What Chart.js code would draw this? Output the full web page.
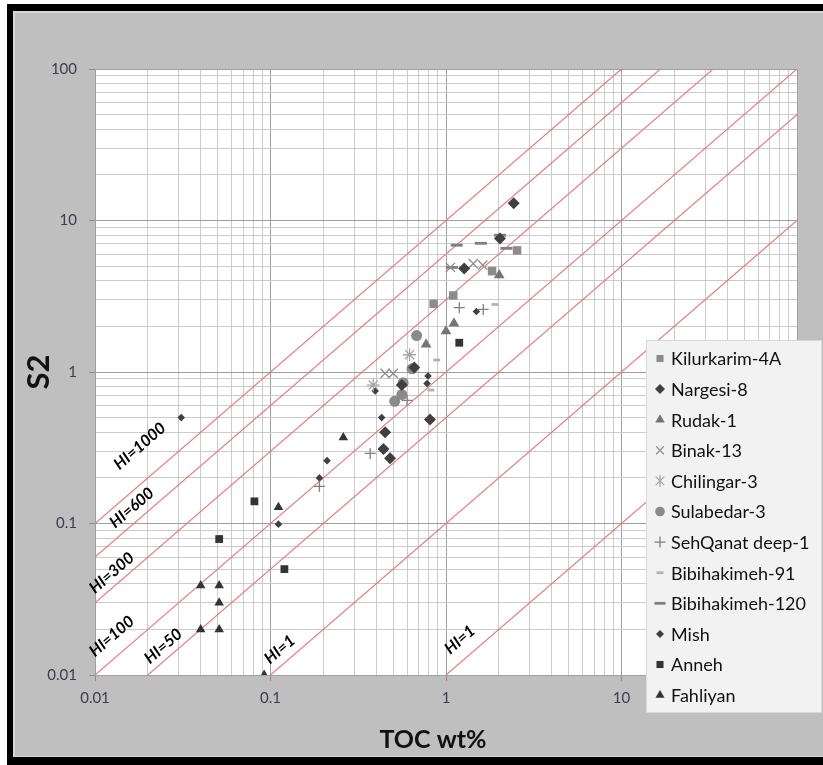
<!DOCTYPE html>
<html>
<head>
<meta charset="utf-8">
<script src="https://cdn.jsdelivr.net/npm/chart.js@4.4.1/dist/chart.umd.min.js"></script>
<style>
html,body{margin:0;padding:0;background:#fff;}
canvas{display:block;}
</style>
</head>
<body>
<canvas id="c" width="823" height="765"></canvas>
<script>
// ---------------- DATA ----------------
const seriesNames = ['Kilurkarim-4A','Nargesi-8','Rudak-1','Binak-13','Chilingar-3','Sulabedar-3',
  'SehQanat deep-1','Bibihakimeh-91','Bibihakimeh-120','Mish','Anneh','Fahliyan'];

const kilurkarimToc = [2.54, 1.83, 1.10, 0.85];
const kilurkarimS2  = [6.35, 4.63, 3.20, 2.82];

const nargesiToc = [2.43, 2.03, 1.27, 0.66, 0.56, 0.81, 0.45, 0.44, 0.48];
const nargesiS2  = [13.0, 7.6, 4.82, 1.07, 0.82, 0.485, 0.40, 0.31, 0.27];

const rudakToc = [2.01, 1.11, 1.00, 0.77];
const rudakS2  = [4.36, 2.09, 1.86, 1.52];

const binakToc = [1.06, 1.43, 1.62, 0.45, 0.50];
const binakS2  = [4.90, 5.20, 5.08, 0.98, 0.98];

const chilingarToc = [0.62, 0.385];
const chilingarS2  = [1.30, 0.82];

const sulabedarToc = [0.68, 0.64, 0.57, 0.56, 0.51];
const sulabedarS2  = [1.74, 1.05, 0.85, 0.71, 0.64];

const sehqanatToc = [1.19, 1.63, 0.60, 0.37, 0.19];
const sehqanatS2  = [2.66, 2.59, 0.65, 0.29, 0.176];

const bibi91Toc = [1.90, 0.885, 0.82];
const bibi91S2  = [2.79, 1.20, 0.76];

const bibi120Toc = [2.03, 1.15, 1.58, 2.21, 1.08];
const bibi120S2  = [8.0, 6.87, 7.07, 6.55, 4.90];

const mishToc = [1.49, 0.79, 0.78, 0.395, 0.43, 0.21, 0.19, 0.031, 0.111];
const mishS2  = [2.51, 0.94, 0.84, 0.75, 0.50, 0.26, 0.20, 0.50, 0.099];

const annehToc = [1.19, 0.081, 0.051, 0.12];
const annehS2  = [1.56, 0.14, 0.079, 0.05];

const fahliyanToc = [0.26, 0.111, 0.040, 0.051, 0.051, 0.040, 0.051, 0.092];
const fahliyanS2  = [0.37, 0.128, 0.039, 0.039, 0.030, 0.020, 0.020, 0.010];

// Hydrogen index reference lines (S2 = HI/100 * TOC)
const hiValues = [1000, 600, 300, 100, 50, 10, 1];
const hiLabels = ['HI=1000','HI=600','HI=300','HI=100','HI=50','HI=1','HI=1'];
const hiLabelToc = [0.018, 0.0162, 0.01245, 0.01245, 0.0245, 0.113, 1.2];
const hiLabelS2  = [0.324, 0.127, 0.0472, 0.0180, 0.0155, 0.0147, 0.0171];

// axes
const axisMin = 0.01, axisMax = 100;
const decades = [0.01, 0.1, 1, 10];
const minorSteps = [1,2,3,4,5,6,7,8,9];
const xTickLabels = ['0.01','0.1','1','10','100'];
const yTickLabels = ['0.01','0.1','1','10','100'];
const majorTicks = [0.01, 0.1, 1, 10, 100];
const xTitle = 'TOC wt%';
const yTitle = 'S2';

// ---------------- BUILD ----------------
const zip = (xs, ys) => xs.map((x, i) => ({x: x, y: ys[i]}));
const seriesData = [
  zip(kilurkarimToc, kilurkarimS2), zip(nargesiToc, nargesiS2), zip(rudakToc, rudakS2),
  zip(binakToc, binakS2), zip(chilingarToc, chilingarS2), zip(sulabedarToc, sulabedarS2),
  zip(sehqanatToc, sehqanatS2), zip(bibi91Toc, bibi91S2), zip(bibi120Toc, bibi120S2),
  zip(mishToc, mishS2), zip(annehToc, annehS2), zip(fahliyanToc, fahliyanS2)
];
const styles = [
  {ps:'rect',     r:6,   c:'#8c8c8c', lw:0, lr:5},
  {ps:'rectRot',  r:6,   c:'#404040', lw:0, lr:5},
  {ps:'triangle', r:6.2, c:'#767676', lw:0, lr:5.5},
  {ps:'crossRot', r:6.5, c:'#8c8c8c', lw:1.3, lr:5.5},
  {ps:'star',     r:6.5, c:'#a6a6a6', lw:1.3, lr:6},
  {ps:'circle',   r:5.5, c:'#8a8a8a', lw:0, lr:4.8},
  {ps:'cross',    r:5.5, c:'#7f7f7f', lw:1.3, lr:5.5},
  {ps:'line',     r:3.5, c:'#b3b3b3', lw:2.8, lr:3.5},
  {ps:'line',     r:6,   c:'#7f7f7f', lw:2.8, lr:5.5},
  {ps:'rectRot',  r:3.8, c:'#404040', lw:0, lr:4},
  {ps:'rect',     r:5.5, c:'#333333', lw:0, lr:5},
  {ps:'triangle', r:5.5, c:'#333333', lw:0, lr:5.2}
];

const datasets = seriesNames.map((n, i) => ({
  type: 'scatter',
  label: n,
  data: seriesData[i],
  pointStyle: styles[i].ps,
  pointRadius: styles[i].r,
  pointHoverRadius: styles[i].r,
  backgroundColor: styles[i].c,
  borderColor: styles[i].c,
  borderWidth: styles[i].lw,
  order: 0
}));
hiValues.forEach((hi, i) => {
  datasets.push({
    type: 'scatter',
    label: hiLabels[i],
    data: [axisMin, axisMax].map(x => ({x: x, y: x * hi / 100})),
    showLine: true,
    pointRadius: 0,
    borderColor: '#e27d7d',
    borderWidth: 1.2,
    order: 10
  });
});

const allTicks = [];
decades.forEach(d => minorSteps.forEach(m => allTicks.push(+(d * m).toPrecision(6))));
allTicks.push(axisMax);
const isMajor = v => Math.abs(Math.log10(v) - Math.round(Math.log10(v))) < 1e-9;

function drawMarker(ctx, ps, x, y, r, color, lw) {
  ctx.save();
  ctx.fillStyle = color; ctx.strokeStyle = color; ctx.lineWidth = lw || 1.3;
  ctx.beginPath();
  if (ps === 'rect') { const s = r * Math.SQRT1_2; ctx.rect(x - s, y - s, 2*s, 2*s); ctx.fill(); }
  else if (ps === 'rectRot') { ctx.moveTo(x, y - r); ctx.lineTo(x + r, y); ctx.lineTo(x, y + r); ctx.lineTo(x - r, y); ctx.closePath(); ctx.fill(); }
  else if (ps === 'triangle') { const w = r * Math.sqrt(3) / 2; ctx.moveTo(x, y - r); ctx.lineTo(x + w, y + r/2); ctx.lineTo(x - w, y + r/2); ctx.closePath(); ctx.fill(); }
  else if (ps === 'circle') { ctx.arc(x, y, r, 0, Math.PI*2); ctx.fill(); }
  else if (ps === 'cross') { ctx.moveTo(x - r, y); ctx.lineTo(x + r, y); ctx.moveTo(x, y - r); ctx.lineTo(x, y + r); ctx.stroke(); }
  else if (ps === 'crossRot') { const s = r * Math.SQRT1_2; ctx.moveTo(x - s, y - s); ctx.lineTo(x + s, y + s); ctx.moveTo(x - s, y + s); ctx.lineTo(x + s, y - s); ctx.stroke(); }
  else if (ps === 'star') { const s = r * Math.SQRT1_2; ctx.moveTo(x - s, y - s); ctx.lineTo(x + s, y + s); ctx.moveTo(x - s, y + s); ctx.lineTo(x + s, y - s); ctx.moveTo(x, y - r); ctx.lineTo(x, y + r); ctx.stroke(); }
  else if (ps === 'line') { ctx.moveTo(x - r, y); ctx.lineTo(x + r, y); ctx.stroke(); }
  ctx.restore();
}

const framePlugin = {
  id: 'frame',
  beforeDraw(chart) {
    const ctx = chart.ctx, W = chart.width, H = chart.height;
    ctx.save();
    ctx.fillStyle = '#ffffff'; ctx.fillRect(0, 0, W, H);
    ctx.fillStyle = '#000000'; ctx.fillRect(7, 4, W - 7, H - 4);
    ctx.fillStyle = '#d6d6d6'; ctx.fillRect(13, 11, W - 13, H - 19);
    ctx.fillStyle = '#bfbfbf'; ctx.fillRect(15, 13, W - 15, H - 22);
    const a = chart.chartArea;
    ctx.fillStyle = '#ffffff'; ctx.fillRect(a.left, a.top, a.right - a.left, a.bottom - a.top);
    ctx.restore();
  }
};

const titlePlugin = {
  id: 'axisTitles',
  afterDraw(chart) {
    const ctx = chart.ctx;
    ctx.save();
    ctx.fillStyle = '#111';
    ctx.textAlign = 'center'; ctx.textBaseline = 'middle';
    ctx.font = 'bold 25px Lato';
    ctx.fillText(xTitle, 433, 740);
    ctx.translate(39, 372);
    ctx.rotate(-Math.PI / 2);
    ctx.font = 'bold 31px Lato';
    ctx.fillText(yTitle, 0, 0);
    ctx.restore();
  }
};

const hiLabelPlugin = {
  id: 'hiLabels',
  afterDatasetsDraw(chart) {
    const ctx = chart.ctx, xs = chart.scales.x, ys = chart.scales.y;
    const angle = Math.atan2(ys.getPixelForValue(10) - ys.getPixelForValue(1),
                             xs.getPixelForValue(10) - xs.getPixelForValue(1));
    ctx.save();
    ctx.font = 'italic bold 16px Lato';
    ctx.fillStyle = '#000';
    ctx.textAlign = 'center'; ctx.textBaseline = 'middle';
    hiLabels.forEach((t, i) => {
      ctx.save();
      ctx.translate(xs.getPixelForValue(hiLabelToc[i]), ys.getPixelForValue(hiLabelS2[i]));
      ctx.rotate(angle);
      ctx.fillText(t, 0, 0);
      ctx.restore();
    });
    ctx.restore();
  }
};

const legendPlugin = {
  id: 'customLegend',
  afterDraw(chart) {
    const ctx = chart.ctx;
    const bx = 646, by = 340, bw = 176, bh = 373;
    ctx.save();
    ctx.fillStyle = '#f2f2f2'; ctx.fillRect(bx, by, bw, bh);
    ctx.strokeStyle = '#d9d9d9'; ctx.lineWidth = 1; ctx.strokeRect(bx + 0.5, by + 0.5, bw - 1, bh - 1);
    ctx.font = '18px Lato'; ctx.fillStyle = '#111'; ctx.textBaseline = 'middle'; ctx.textAlign = 'left';
    seriesNames.forEach((n, i) => {
      const y = 358.5 + i * 30.6;
      drawMarker(ctx, styles[i].ps, 660, y, styles[i].lr, styles[i].c, styles[i].lw);
      ctx.fillStyle = '#111';
      ctx.fillText(n, 671, y + 1);
    });
    ctx.restore();
  }
};

Chart.defaults.font.family = 'Lato';

new Chart(document.getElementById('c'), {
  type: 'scatter',
  data: { datasets: datasets },
  plugins: [framePlugin, hiLabelPlugin, titlePlugin, legendPlugin],
  options: {
    responsive: false,
    devicePixelRatio: 1,
    animation: false,
    layout: { padding: { top: 69, right: 26, left: 0, bottom: 0 } },
    plugins: { legend: { display: false }, tooltip: { enabled: false } },
    scales: {
      x: {
        type: 'logarithmic', min: axisMin, max: axisMax,
        afterBuildTicks: s => { s.ticks = allTicks.map(v => ({value: v})); },
        afterFit: s => { s.height = 90; },
        ticks: {
          autoSkip: false, maxRotation: 0, padding: 8,
          color: '#3d3d4a', font: { size: 15 },
          callback: (v) => { const k = majorTicks.findIndex(m => Math.abs(m - v) / m < 1e-6); return k >= 0 ? xTickLabels[k] : ''; }
        },
        grid: {
          color: c => (c.tick && isMajor(c.tick.value)) ? '#a0a0a0' : '#cbcbcb',
          tickColor: c => (c.tick && isMajor(c.tick.value)) ? '#8c8c8c' : 'rgba(0,0,0,0)',
          tickLength: 6, lineWidth: 1
        },
        border: { display: true, color: '#a0a0a0' },
        title: { display: false }
      },
      y: {
        type: 'logarithmic', min: axisMin, max: axisMax,
        afterBuildTicks: s => { s.ticks = allTicks.map(v => ({value: v})); },
        afterFit: s => { s.width = 95; },
        ticks: {
          autoSkip: false, padding: 12,
          color: '#3d3d4a', font: { size: 15 },
          callback: (v) => { const k = majorTicks.findIndex(m => Math.abs(m - v) / m < 1e-6); return k >= 0 ? yTickLabels[k] : ''; }
        },
        grid: {
          color: c => (c.tick && isMajor(c.tick.value)) ? '#a0a0a0' : '#cbcbcb',
          tickColor: c => (c.tick && isMajor(c.tick.value)) ? '#8c8c8c' : 'rgba(0,0,0,0)',
          tickLength: 6, lineWidth: 1
        },
        border: { display: true, color: '#a0a0a0' },
        title: { display: false }
      }
    }
  }
});
</script>
</body>
</html>
